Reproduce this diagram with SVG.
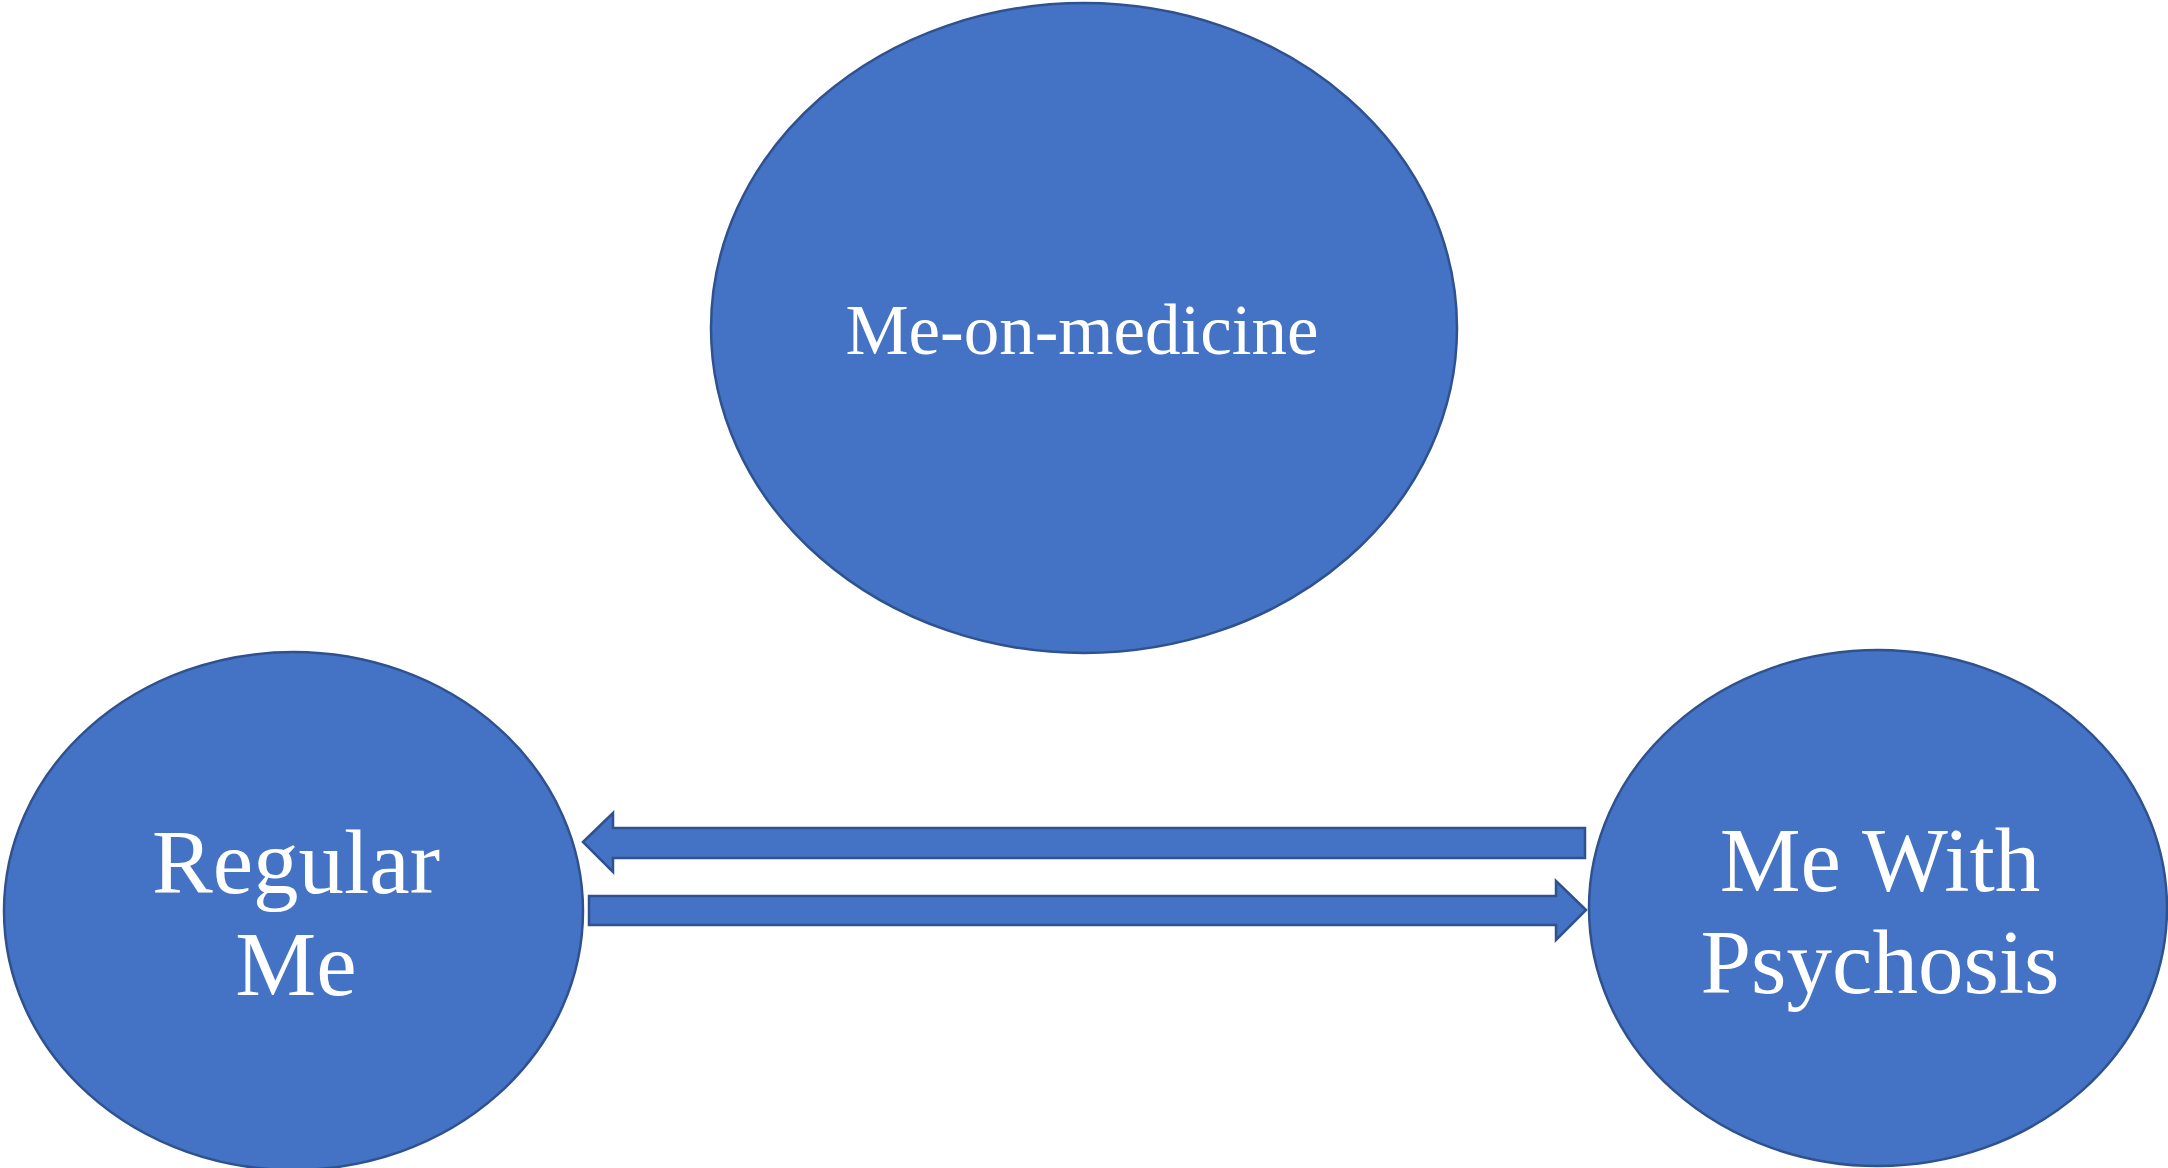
<svg xmlns="http://www.w3.org/2000/svg" width="2168" height="1168" viewBox="0 0 2168 1168">
<style>
.node{fill:#4472C4;stroke:#2F528F;stroke-width:2.5}
.arrow{fill:#4472C4;stroke:#2F528F;stroke-width:2.5;stroke-linejoin:miter}
.lbl{font-family:"Liberation Serif","Times New Roman",serif;fill:#FFFFFF;text-anchor:middle}
</style>
<rect x="0" y="0" width="2168" height="1168" fill="#FFFFFF"/>
<g id="node-medicine">
<ellipse class="node" cx="1084" cy="328" rx="373" ry="325"/>
<text class="lbl" x="1082" y="354" font-size="71">Me-on-medicine</text>
</g>
<g id="node-regular">
<ellipse class="node" cx="293.5" cy="911" rx="289.5" ry="259"/>
<text class="lbl" x="296" y="893" font-size="91">Regular</text>
<text class="lbl" x="296" y="995" font-size="91">Me</text>
</g>
<g id="node-psychosis">
<ellipse class="node" cx="1878" cy="908" rx="289" ry="258"/>
<text class="lbl" x="1880" y="891" font-size="91">Me With</text>
<text class="lbl" x="1880" y="993" font-size="91">Psychosis</text>
</g>
<g id="connectors">
<polygon class="arrow" points="583,842 613,813 613,828 1585,828 1585,858 613,858 613,872"/>
<polygon class="arrow" points="1586,910 1556,881 1556,896 589,896 589,925 1556,925 1556,940"/>
</g>
</svg>
